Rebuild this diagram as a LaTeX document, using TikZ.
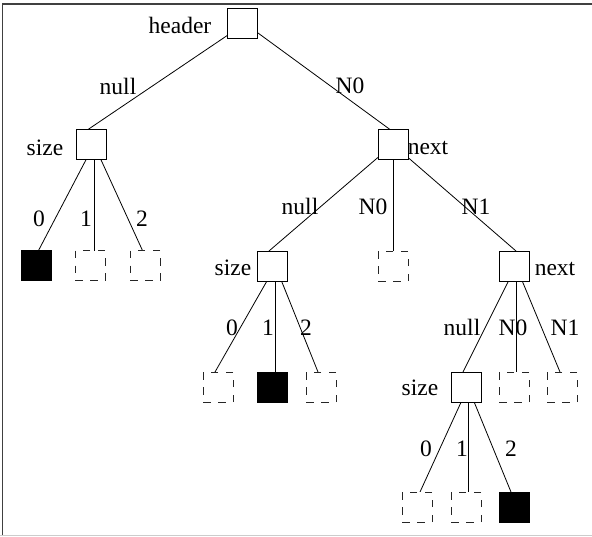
\documentclass[tikz,border=0pt]{standalone}
\usepackage{fontspec}
\setmainfont{Liberation Serif}
\usetikzlibrary{backgrounds}
\begin{document}
\begin{tikzpicture}[x=1pt,y=-1pt,
  box/.style={draw, fill=white, line width=0.9pt, minimum size=30pt, inner sep=0pt, outer sep=0pt},
  emptybox/.style={box, draw=black!85, dash pattern=on 7.5pt off 7.5pt},
  filledbox/.style={box, fill=black},
  lab/.style={font=\fontsize{23.5}{28}\selectfont, anchor=base, inner sep=0pt},
  link/.style={line width=0.8pt}]
\useasboundingbox (0,0) rectangle (592,536);
% frame
\draw[black!75, line width=1.3pt] (2.5,536) -- (2.5,4) -- (592,4);
\draw[black!20, line width=1pt] (0,535.5) -- (592,535.5);

% nodes
\node[box] (hdr) at (242,23.5) {};
\node[box] (s1) at (91,144.5) {};
\node[box] (n1) at (393,144.5) {};
\node[filledbox] (s1a) at (36,265.5) {};
\node[emptybox] (s1b) at (90,265.5) {};
\node[emptybox] (s1c) at (145,265.5) {};
\node[box] (s2) at (272,266) {};
\node[emptybox] (n1b) at (393,266) {};
\node[box] (n2) at (514,266) {};
\node[emptybox] (s2a) at (218,387) {};
\node[filledbox] (s2b) at (272.5,387) {};
\node[emptybox] (s2c) at (321,387) {};
\node[box] (s3) at (466,387) {};
\node[emptybox] (n2b) at (514,387) {};
\node[emptybox] (n2c) at (562,387) {};
\node[emptybox] (s3a) at (417,507) {};
\node[emptybox] (s3b) at (466,507) {};
\node[filledbox] (s3c) at (514,507) {};

% edges (behind the boxes, from the parent's centre)
\begin{scope}[on background layer]
\draw[link] ([xshift=3pt]hdr.center) -- ([xshift=-3pt]s1.north);
\draw[link] ([xshift=3pt]hdr.center) -- ([xshift=-3pt]n1.north);
\draw[link] ([xshift=3pt]s1.center) -- ([xshift=2.5pt]s1a.north);
\draw[link] ([xshift=3pt]s1.center) -- ([xshift=4pt]s1b.north);
\draw[link] ([xshift=3pt]s1.center) -- ([xshift=-2.5pt]s1c.north);
\draw[link] (n1.center) -- ([xshift=-3pt]s2.north);
\draw[link] (n1.center) -- (n1b.north);
\draw[link] (n1.center) -- ([xshift=2pt]n2.north);
\draw[link] ([xshift=3.5pt]s2.center) -- ([xshift=-3pt]s2a.north);
\draw[link] ([xshift=3.5pt]s2.center) -- ([xshift=3pt]s2b.north);
\draw[link] ([xshift=3.5pt]s2.center) -- ([xshift=-3pt]s2c.north);
\draw[link] ([xshift=2pt]n2.center) -- ([xshift=-3pt]s3.north);
\draw[link] ([xshift=2pt]n2.center) -- ([xshift=2pt]n2b.north);
\draw[link] ([xshift=2pt]n2.center) -- ([xshift=-2pt]n2c.north);
\draw[link] ([xshift=2pt]s3.center) -- ([xshift=3pt]s3a.north);
\draw[link] ([xshift=2pt]s3.center) -- ([xshift=2pt]s3b.north);
\draw[link] ([xshift=2pt]s3.center) -- ([xshift=-3pt]s3c.north);
\end{scope}

% labels
\node[lab] (lhdr) at (180,33) {header};
\node[lab] (l1) at (118,94) {null};
\node[lab] (l2) at (350,93) {N0};
\node[lab] (ls1) at (45,155) {size};
\node[lab] (ln1) at (428,154) {next};
\node[lab] (l3) at (39,226) {0};
\node[lab] (l4) at (86,226) {1};
\node[lab] (l5) at (142,226) {2};
\node[lab] (l6) at (300,214) {null};
\node[lab] (l7) at (373,214) {N0};
\node[lab] (l8) at (476,214) {N1};
\node[lab] (ls2) at (233,275) {size};
\node[lab] (ln2) at (555,275) {next};
\node[lab] (l9) at (232,335) {0};
\node[lab] (l10) at (268,335) {1};
\node[lab] (l11) at (306,335) {2};
\node[lab] (l12) at (462,335) {null};
\node[lab] (l13) at (513,335) {N0};
\node[lab] (l14) at (565,335) {N1};
\node[lab] (ls3) at (420,395) {size};
\node[lab] (l15) at (426,456) {0};
\node[lab] (l16) at (462,456) {1};
\node[lab] (l17) at (511,456) {2};
\end{tikzpicture}
\end{document}
